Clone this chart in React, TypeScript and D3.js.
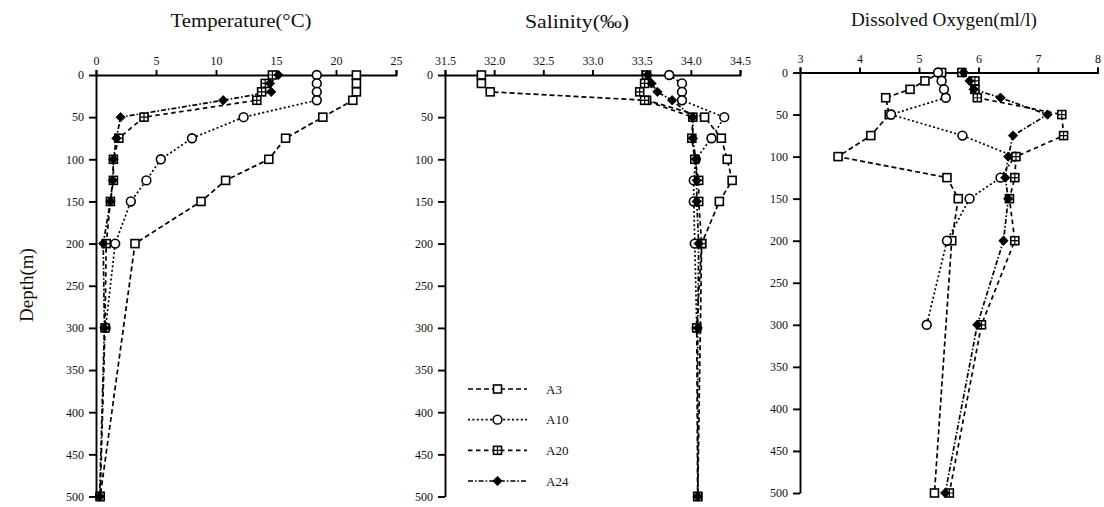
import React, { useEffect, useRef } from "react";
import * as d3 from "d3";

// ---------- data ----------
const stations = ["A3", "A10", "A20", "A24"];
const depthTicks = [0, 50, 100, 150, 200, 250, 300, 350, 400, 450, 500];

const depthsA3 = [0, 10, 20, 30, 50, 75, 100, 125, 150, 200, 500];
const depthsA10 = [0, 10, 20, 30, 50, 75, 100, 125, 150, 200, 300];
const depthsA20 = [0, 10, 20, 30, 50, 75, 100, 125, 150, 200, 300, 500];
const depthsA24 = [0, 10, 20, 30, 50, 75, 100, 125, 150, 200, 300, 500];

const tempTicks = [0, 5, 10, 15, 20, 25];
const tempA3 = [21.7, 21.7, 21.7, 21.4, 18.9, 15.8, 14.4, 10.8, 8.75, 3.25, 0.35];
const tempA10 = [18.4, 18.4, 18.4, 18.4, 12.3, 8.0, 5.4, 4.2, 2.9, 1.6, 0.8];
const tempA20 = [14.7, 14.1, 13.8, 13.4, 4.0, 1.9, 1.45, 1.45, 1.2, 0.85, 0.75, 0.35];
const tempA24 = [15.2, 14.5, 14.6, 10.6, 2.05, 1.7, 1.45, 1.4, 1.2, 0.6, 0.7, 0.3];

const salTicks = [31.5, 32.0, 32.5, 33.0, 33.5, 34.0, 34.5];
const salA3 = [31.87, 31.87, 31.96, 33.55, 34.14, 34.31, 34.37, 34.42, 34.29, 34.11, 34.07];
const salA10 = [33.78, 33.91, 33.91, 33.91, 34.34, 34.21, 34.05, 34.03, 34.03, 34.04, 34.06];
const salA20 = [33.55, 33.53, 33.48, 33.53, 34.02, 34.01, 34.04, 34.08, 34.08, 34.11, 34.06, 34.07];
const salA24 = [33.56, 33.6, 33.66, 33.81, 34.02, 34.02, 34.05, 34.06, 34.06, 34.08, 34.07, 34.07];

const doTicks = [3, 4, 5, 6, 7, 8];
const doA3 = [5.38, 5.1, 4.85, 4.44, 4.5, 4.19, 3.64, 5.47, 5.66, 5.55, 5.26];
const doA10 = [5.32, 5.38, 5.42, 5.45, 4.53, 5.73, 6.61, 6.37, 5.85, 5.47, 5.13];
const doA20 = [5.72, 5.94, 5.94, 5.98, 7.4, 7.43, 6.63, 6.61, 6.52, 6.61, 6.05, 5.51];
const doA24 = [5.75, 5.85, 5.92, 6.37, 7.16, 6.58, 6.5, 6.45, 6.5, 6.42, 5.98, 5.44];

const titles = ["Temperature(°C)", "Salinity(‰)", "Dissolved Oxygen(ml/l)"];
const depthLabel = "Depth(m)";

// ---------- styles ----------
const stationStyle: Record<string, { dash: string; marker: string }> = {
  A3: { dash: "5,3", marker: "square" },
  A10: { dash: "2,2.4", marker: "circle" },
  A20: { dash: "4.5,3.5", marker: "squarecross" },
  A24: { dash: "5,2,1.6,2", marker: "diamond" },
};

const FONT = "'Liberation Serif', 'Times New Roman', serif";

function drawMarker(g: any, type: string, x: number, y: number) {
  const s = 4;
  if (type === "square") {
    g.append("rect").attr("x", x - s).attr("y", y - s).attr("width", 2 * s).attr("height", 2 * s)
      .attr("fill", "#fff").attr("stroke", "#000").attr("stroke-width", 1.6);
  } else if (type === "circle") {
    g.append("circle").attr("cx", x).attr("cy", y).attr("r", 4.4)
      .attr("fill", "#fff").attr("stroke", "#000").attr("stroke-width", 1.6);
  } else if (type === "squarecross") {
    g.append("rect").attr("x", x - s).attr("y", y - s).attr("width", 2 * s).attr("height", 2 * s)
      .attr("fill", "#fff").attr("stroke", "#000").attr("stroke-width", 1.6);
    g.append("path").attr("d", `M${x - s},${y}H${x + s}M${x},${y - s}V${y + s}`)
      .attr("stroke", "#000").attr("stroke-width", 1.2);
  } else {
    const r = 4.7;
    g.append("path").attr("d", `M${x},${y - r}L${x + r},${y}L${x},${y + r}L${x - r},${y}Z`)
      .attr("fill", "#000").attr("stroke", "#000").attr("stroke-width", 0.8);
  }
}

export default function App() {
  const ref = useRef<SVGSVGElement | null>(null);

  useEffect(() => {
    const svg = d3.select(ref.current);
    svg.selectAll("*").remove();

    const panels = [
      {
        title: titles[0], titleX: 241, titleY: 27, titleW: 141,
        domain: [0, 25], ticks: tempTicks, fmt: (d: number) => String(d),
        x0: 96, x1: 396, y0: 75, y1: 496.5,
        series: [
          { name: "A3", depths: depthsA3, vals: tempA3 },
          { name: "A10", depths: depthsA10, vals: tempA10 },
          { name: "A20", depths: depthsA20, vals: tempA20 },
          { name: "A24", depths: depthsA24, vals: tempA24 },
        ],
      },
      {
        title: titles[1], titleX: 577, titleY: 28, titleW: 104,
        domain: [31.5, 34.5], ticks: salTicks, fmt: d3.format(".1f"),
        x0: 445, x1: 740, y0: 75, y1: 496.5,
        series: [
          { name: "A3", depths: depthsA3, vals: salA3 },
          { name: "A10", depths: depthsA10, vals: salA10 },
          { name: "A20", depths: depthsA20, vals: salA20 },
          { name: "A24", depths: depthsA24, vals: salA24 },
        ],
      },
      {
        title: titles[2], titleX: 944, titleY: 26, titleW: 186,
        domain: [3, 8], ticks: doTicks, fmt: (d: number) => String(d),
        x0: 800, x1: 1097.5, y0: 72.5, y1: 493,
        series: [
          { name: "A3", depths: depthsA3, vals: doA3 },
          { name: "A10", depths: depthsA10, vals: doA10 },
          { name: "A20", depths: depthsA20, vals: doA20 },
          { name: "A24", depths: depthsA24, vals: doA24 },
        ],
      },
    ];

    panels.forEach((p) => {
      const x = d3.scaleLinear().domain(p.domain).range([p.x0, p.x1]);
      const y = d3.scaleLinear().domain([0, 500]).range([p.y0, p.y1]);
      const g = svg.append("g");

      g.append("text").attr("x", p.titleX).attr("y", p.titleY).attr("text-anchor", "middle")
        .attr("font-family", FONT).attr("font-size", 19.5).attr("fill", "#111")
        .attr("textLength", p.titleW).attr("lengthAdjust", "spacingAndGlyphs").text(p.title);

      const ax = g.append("g").attr("transform", `translate(0,${p.y0})`)
        .call(d3.axisTop(x).tickValues(p.ticks).tickFormat(p.fmt as any).tickSizeInner(5).tickSizeOuter(5).tickPadding(5));
      const ay = g.append("g").attr("transform", `translate(${p.x0},0)`)
        .call(d3.axisLeft(y).tickValues(depthTicks).tickSizeInner(7).tickSizeOuter(0).tickPadding(5));
      [ax, ay].forEach((a) => {
        a.selectAll("path,line").attr("stroke", "#000").attr("stroke-width", 1.9);
        a.selectAll("text").attr("font-family", FONT).attr("font-size", 12).attr("fill", "#111");
      });

      const line = d3.line<[number, number]>().x((d) => x(d[0])).y((d) => y(d[1]));
      p.series.forEach((s) => {
        const pts: [number, number][] = s.vals.map((v, i) => [v, s.depths[i]]);
        g.append("path").attr("d", line(pts) as string).attr("fill", "none")
          .attr("stroke", "#000").attr("stroke-width", 1.7)
          .attr("stroke-dasharray", stationStyle[s.name].dash);
      });
      p.series.forEach((s) => {
        const mg = g.append("g");
        s.vals.forEach((v, i) => drawMarker(mg, stationStyle[s.name].marker, x(v), y(s.depths[i])));
      });
    });

    // depth label
    svg.append("text").attr("transform", "translate(33,285) rotate(-90)").attr("text-anchor", "middle")
      .attr("font-family", FONT).attr("font-size", 19).attr("fill", "#111").text(depthLabel);

    // legend
    const legY = d3.scalePoint<string>().domain(stations).range([389, 481]);
    const lg = svg.append("g");
    stations.forEach((st) => {
      const yy = legY(st) as number;
      lg.append("line").attr("x1", 468).attr("x2", 527).attr("y1", yy).attr("y2", yy)
        .attr("stroke", "#000").attr("stroke-width", 1.7).attr("stroke-dasharray", stationStyle[st].dash);
      drawMarker(lg, stationStyle[st].marker, 497.5, yy);
      lg.append("text").attr("x", 546).attr("y", yy + 4.5).attr("font-family", FONT)
        .attr("font-size", 13).attr("fill", "#111").text(st);
    });
  }, []);

  return (
    <svg ref={ref} width={1104} height={507}
      style={{ position: "absolute", left: 0, top: 0, background: "#fff", display: "block" }} />
  );
}
